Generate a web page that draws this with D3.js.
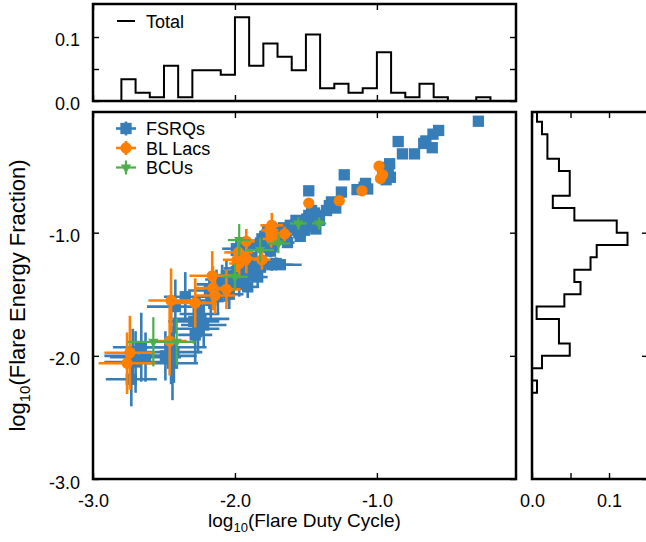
<!DOCTYPE html>
<html>
<head>
<meta charset="utf-8">
<script src="https://cdn.jsdelivr.net/npm/d3@7"></script>
<style>
  body { margin: 0; background: #fff; }
  svg { display: block; }
  text { font-family: "Liberation Sans", Arial, Helvetica, sans-serif; fill: #000; }
</style>
</head>
<body>
<div id="chart"></div>
<script>
// Each source: [log10 duty cycle, log10 energy fraction, x error, y error]
const fsrqs = [
  [-2.72, -2.00, 0.20, 0.22], [-2.73, -2.19, 0.18, 0.22], [-2.70, -2.05, 0.22, 0.25],
  [-2.63, -2.01, 0.25, 0.20], [-2.66, -1.93, 0.20, 0.28],
  [-2.49, -2.00, 0.22, 0.20], [-2.45, -1.93, 0.25, 0.30], [-2.43, -1.97, 0.20, 0.25],
  [-2.42, -1.60, 0.20, 0.22], [-2.44, -2.06, 0.18, 0.30],
  [-2.35, -1.52, 0.15, 0.20],
  [-2.29, -1.72, 0.18, 0.18], [-2.26, -1.78, 0.15, 0.20], [-2.24, -1.70, 0.20, 0.15],
  [-2.28, -1.83, 0.12, 0.22], [-2.22, -1.75, 0.16, 0.18], [-2.25, -1.66, 0.14, 0.15],
  [-2.17, -1.55, 0.12, 0.15], [-2.13, -1.42, 0.14, 0.12], [-2.18, -1.47, 0.15, 0.15],
  [-2.12, -1.52, 0.10, 0.14],
  [-2.09, -1.38, 0.12, 0.12], [-2.04, -1.50, 0.10, 0.12], [-2.02, -1.40, 0.12, 0.10],
  [-2.06, -1.35, 0.10, 0.12],
  [-1.99, -1.13, 0.10, 0.08], [-1.95, -1.18, 0.08, 0.08], [-1.93, -1.28, 0.10, 0.10],
  [-1.96, -1.32, 0.08, 0.10], [-1.91, -1.30, 0.09, 0.08], [-1.94, -1.38, 0.10, 0.10],
  [-1.92, -1.35, 0.08, 0.09], [-1.98, -1.29, 0.10, 0.08], [-1.95, -1.25, 0.07, 0.08],
  [-1.90, -1.24, 0.08, 0.07], [-1.93, -1.12, 0.06, 0.07], [-1.97, -1.42, 0.09, 0.10],
  [-1.91, -1.44, 0.08, 0.09],
  [-1.86, -1.30, 0.08, 0.08], [-1.84, -1.36, 0.07, 0.08], [-1.82, -1.28, 0.08, 0.07],
  [-1.88, -1.20, 0.06, 0.07], [-1.85, -1.10, 0.06, 0.06], [-1.81, -1.05, 0.05, 0.06],
  [-1.74, -1.26, 0.15, 0.05], [-1.71, -1.25, 0.06, 0.05], [-1.78, -1.08, 0.06, 0.05],
  [-1.76, -1.12, 0.05, 0.06], [-1.73, -1.10, 0.05, 0.05], [-1.79, -1.03, 0.05, 0.05],
  [-1.77, -0.99, 0.05, 0.04], [-1.71, -1.05, 0.04, 0.05], [-1.75, -1.15, 0.05, 0.05],
  [-1.68, -1.26, 0.15, 0.04], [-1.69, -1.00, 0.05, 0.04], [-1.66, -0.96, 0.04, 0.04],
  [-1.64, -1.05, 0.05, 0.04], [-1.62, -0.98, 0.04, 0.04], [-1.67, -1.03, 0.04, 0.05],
  [-1.61, -0.94, 0.04, 0.03], [-1.63, -1.08, 0.05, 0.04],
  [-1.58, -0.97, 0.04, 0.04], [-1.55, -1.00, 0.04, 0.04], [-1.52, -0.95, 0.03, 0.03],
  [-1.57, -0.90, 0.04, 0.03], [-1.54, -1.03, 0.04, 0.04], [-1.51, -0.98, 0.03, 0.03],
  [-1.48, -0.66, 0.03, 0.03], [-1.48, -0.86, 0.03, 0.03], [-1.46, -0.90, 0.03, 0.03],
  [-1.45, -0.94, 0.03, 0.03], [-1.42, -0.88, 0.03, 0.03], [-1.44, -0.84, 0.03, 0.02],
  [-1.47, -0.95, 0.03, 0.03], [-1.49, -0.92, 0.04, 0.03], [-1.41, -0.86, 0.03, 0.02],
  [-1.43, -0.97, 0.03, 0.03], [-1.46, -0.82, 0.03, 0.02], [-1.405, -0.90, 0.02, 0.02],
  [-1.495, -0.89, 0.03, 0.03],
  [-1.32, -0.75, 0.02, 0.02], [-1.335, -0.78, 0.02, 0.02], [-1.355, -0.82, 0.02, 0.02],
  [-1.23, -0.53, 0.02, 0.02], [-1.25, -0.67, 0.02, 0.02], [-1.29, -0.80, 0.02, 0.02],
  [-1.14, -0.65, 0.02, 0.02],
  [-1.08, -0.60, 0.02, 0.02], [-1.065, -0.645, 0.02, 0.02], [-1.09, -0.63, 0.02, 0.02],
  [-0.91, -0.44, 0.01, 0.01], [-0.93, -0.47, 0.01, 0.01], [-0.95, -0.50, 0.01, 0.01],
  [-0.92, -0.52, 0.01, 0.01], [-0.94, -0.53, 0.01, 0.01], [-0.96, -0.48, 0.01, 0.01],
  [-0.905, -0.55, 0.01, 0.01], [-0.935, -0.57, 0.01, 0.01],
  [-0.85, -0.26, 0.01, 0.01], [-0.82, -0.36, 0.01, 0.01],
  [-0.735, -0.36, 0.01, 0.01],
  [-0.67, -0.275, 0.01, 0.01], [-0.655, -0.255, 0.01, 0.01], [-0.61, -0.31, 0.01, 0.01],
  [-0.605, -0.20, 0.01, 0.01],
  [-0.565, -0.17, 0.01, 0.01],
  [-0.285, -0.095, 0.01, 0.01]
];

const blLacs = [
  [-2.74, -1.975, 0.18, 0.30], [-2.76, -2.06, 0.20, 0.25],
  [-2.45, -1.55, 0.16, 0.26], [-2.46, -1.88, 0.12, 0.28],
  [-2.28, -1.57, 0.15, 0.20],
  [-2.16, -1.35, 0.16, 0.20], [-2.155, -1.45, 0.12, 0.18], [-2.14, -1.51, 0.14, 0.15],
  [-2.06, -1.46, 0.10, 0.16],
  [-1.975, -1.16, 0.10, 0.12], [-1.92, -1.21, 0.08, 0.12], [-1.985, -1.22, 0.10, 0.10],
  [-1.97, -1.25, 0.07, 0.12], [-1.92, -1.07, 0.06, 0.10],
  [-1.81, -1.22, 0.06, 0.08],
  [-1.74, -0.94, 0.08, 0.10], [-1.755, -0.98, 0.06, 0.08], [-1.725, -1.02, 0.06, 0.08],
  [-1.745, -1.05, 0.06, 0.07],
  [-1.65, -1.01, 0.05, 0.06],
  [-1.48, -0.76, 0.03, 0.04],
  [-1.265, -0.74, 0.02, 0.02],
  [-1.105, -0.66, 0.02, 0.02],
  [-0.985, -0.46, 0.01, 0.01], [-0.96, -0.53, 0.01, 0.01], [-0.975, -0.56, 0.01, 0.01]
];

const bcus = [
  [-2.575, -1.886, 0.18, 0.20], [-2.41, -1.886, 0.13, 0.19],
  [-2.00, -1.358, 0.09, 0.11],
  [-1.97, -1.06, 0.08, 0.13],
  [-1.823, -1.141, 0.10, 0.10],
  [-1.694, -1.087, 0.08, 0.08],
  [-1.553, -0.925, 0.06, 0.05],
  [-1.407, -0.925, 0.05, 0.05]
];

// Marginal histograms (fraction of all sources per 0.1 dex bin)
const binWidth = 0.1;
const dutyBinStart = [-2.8, -2.7, -2.6, -2.5, -2.4, -2.3, -2.2, -2.1, -2.0, -1.9, -1.8, -1.7, -1.6,
                      -1.5, -1.4, -1.3, -1.2, -1.1, -1.0, -0.9, -0.8, -0.7, -0.6, -0.5, -0.4, -0.3];
const dutyFraction = [0.034, 0.013, 0.006, 0.055, 0.006, 0.048, 0.048, 0.041, 0.131, 0.055, 0.090, 0.069, 0.048,
                      0.104, 0.020, 0.027, 0.013, 0.020, 0.076, 0.013, 0.006, 0.027, 0.006, 0, 0, 0.006];
const energyBinStart = [-0.1, -0.2, -0.3, -0.4, -0.5, -0.6, -0.7, -0.8, -0.9, -1.0, -1.1, -1.2,
                        -1.3, -1.4, -1.5, -1.6, -1.7, -1.8, -1.9, -2.0, -2.1, -2.2, -2.3];
const energyFraction = [0.0065, 0.013, 0.020, 0.020, 0.035, 0.049, 0.049, 0.027, 0.055, 0.110, 0.124, 0.084,
                        0.076, 0.055, 0.063, 0.042, 0.006, 0.035, 0.035, 0.049, 0.013, 0, 0.0065];

const logTicks = [-3, -2, -1];
const fracTicks = [0, 0.05, 0.1];
const fracLabelled = [0, 0.1];

const series = [
  { name: "FSRQs",   data: fsrqs,  color: "#377eb8", symbol: d3.symbolSquare,   size: 128, rotate: 0,   barWidth: 2.6 },
  { name: "BL Lacs", data: blLacs, color: "#ff7f00", symbol: d3.symbolCircle,   size: 100, rotate: 0,   barWidth: 2.6 },
  { name: "BCUs",    data: bcus,   color: "#4daf4a", symbol: d3.symbolTriangle, size: 46,  rotate: 180, barWidth: 2.2 }
];

const W = 646, H = 542;
const mainBox = { left: 93, right: 516, top: 112, bottom: 479 };
const topBox  = { left: 93, right: 516, top: 4,   bottom: 101 };
const sideBox = { left: 532, right: 648, top: 112, bottom: 479 };

const x = d3.scaleLinear().domain([-3, -0.02]).range([mainBox.left, mainBox.right]);
const y = d3.scaleLinear().domain([-3, -0.02]).range([mainBox.bottom, mainBox.top]);
const yTop = d3.scaleLinear().domain([0, 0.1516]).range([topBox.bottom, topBox.top]);
const xSide = d3.scaleLinear().domain([0, 0.1506]).range([sideBox.left, sideBox.right]);

const svg = d3.select("#chart").append("svg").attr("width", W).attr("height", H);
svg.append("rect").attr("width", W).attr("height", H).attr("fill", "#fff");

const FONT = 18;
const fmt1 = d => d.toFixed(1);

const defs = svg.append("defs");
[["clip-main", mainBox], ["clip-top", topBox], ["clip-side", sideBox]].forEach(([id, b]) => {
  defs.append("clipPath").attr("id", id).append("rect")
    .attr("x", b.left).attr("y", b.top).attr("width", b.right - b.left).attr("height", b.bottom - b.top);
});

function styleAxis(g) {
  g.select(".domain").remove();
  g.selectAll(".tick line").attr("stroke", "#000").attr("stroke-width", 1.4);
  g.selectAll(".tick text").attr("font-size", FONT).attr("font-family", null).attr("fill", "#000");
}

// ---- main panel axes (inward ticks on every side) ----
svg.append("g").attr("transform", `translate(0,${mainBox.bottom})`)
  .call(d3.axisBottom(x).tickValues(logTicks).tickFormat(fmt1).tickSizeInner(-6).tickSizeOuter(0).tickPadding(15))
  .call(styleAxis);
svg.append("g").attr("transform", `translate(0,${mainBox.top})`)
  .call(d3.axisTop(x).tickValues(logTicks).tickFormat("").tickSizeInner(-6).tickSizeOuter(0))
  .call(styleAxis);
svg.append("g").attr("transform", `translate(${mainBox.left},0)`)
  .call(d3.axisLeft(y).tickValues(logTicks).tickFormat(fmt1).tickSizeInner(-6).tickSizeOuter(0).tickPadding(13))
  .call(styleAxis)
  .call(g => g.selectAll(".tick text").attr("dy", "0.5em"));
svg.append("g").attr("transform", `translate(${mainBox.right},0)`)
  .call(d3.axisRight(y).tickValues(logTicks).tickFormat("").tickSizeInner(-6).tickSizeOuter(0))
  .call(styleAxis);

// ---- top histogram axes ----
svg.append("g").attr("transform", `translate(0,${topBox.bottom})`)
  .call(d3.axisBottom(x).tickValues(logTicks).tickFormat("").tickSizeInner(-6).tickSizeOuter(0))
  .call(styleAxis);
svg.append("g").attr("transform", `translate(0,${topBox.top})`)
  .call(d3.axisTop(x).tickValues(logTicks).tickFormat("").tickSizeInner(-6).tickSizeOuter(0))
  .call(styleAxis);
svg.append("g").attr("transform", `translate(${topBox.left},0)`)
  .call(d3.axisLeft(yTop).tickValues(fracTicks)
    .tickFormat(d => fracLabelled.includes(d) ? fmt1(d) : "")
    .tickSizeInner(-6).tickSizeOuter(0).tickPadding(13))
  .call(styleAxis)
  .call(g => g.selectAll(".tick text").attr("dy", "0.45em"));
svg.append("g").attr("transform", `translate(${topBox.right},0)`)
  .call(d3.axisRight(yTop).tickValues(fracTicks).tickFormat("").tickSizeInner(-6).tickSizeOuter(0))
  .call(styleAxis);

// ---- side histogram axes ----
svg.append("g").attr("transform", `translate(0,${sideBox.bottom})`)
  .call(d3.axisBottom(xSide).tickValues(fracTicks)
    .tickFormat(d => fracLabelled.includes(d) ? fmt1(d) : "")
    .tickSizeInner(-6).tickSizeOuter(0).tickPadding(15))
  .call(styleAxis);
svg.append("g").attr("transform", `translate(0,${sideBox.top})`)
  .call(d3.axisTop(xSide).tickValues(fracTicks).tickFormat("").tickSizeInner(-6).tickSizeOuter(0))
  .call(styleAxis);
svg.append("g").attr("transform", `translate(${sideBox.right},0)`)
  .call(d3.axisRight(y).tickValues(logTicks).tickFormat("").tickSizeInner(-6).tickSizeOuter(0))
  .call(styleAxis);

// ---- histograms ----
const topPts = [[dutyBinStart[0], 0]];
dutyBinStart.forEach((lo, i) => { topPts.push([lo, dutyFraction[i]], [lo + binWidth, dutyFraction[i]]); });
topPts.push([dutyBinStart[dutyBinStart.length - 1] + binWidth, 0]);
svg.append("path")
  .attr("clip-path", "url(#clip-top)")
  .attr("d", d3.line().x(d => x(d[0])).y(d => yTop(d[1]))(topPts))
  .attr("fill", "none").attr("stroke", "#000").attr("stroke-width", 2);

const sidePts = [[0, energyBinStart[0] + binWidth]];
energyBinStart.forEach((lo, i) => { sidePts.push([energyFraction[i], lo + binWidth], [energyFraction[i], lo]); });
sidePts.push([0, energyBinStart[energyBinStart.length - 1]]);
svg.append("path")
  .attr("clip-path", "url(#clip-side)")
  .attr("d", d3.line().x(d => xSide(d[0])).y(d => y(d[1]))(sidePts))
  .attr("fill", "none").attr("stroke", "#000").attr("stroke-width", 2);

// ---- scatter with error bars ----
const plot = svg.append("g").attr("clip-path", "url(#clip-main)");
series.forEach(s => {
  const g = plot.append("g");
  const bars = g.append("g").attr("stroke", s.color).attr("stroke-width", s.barWidth);
  bars.selectAll("line.xe").data(s.data).join("line").attr("class", "xe")
    .attr("x1", d => x(d[0] - d[2])).attr("x2", d => x(d[0] + d[2]))
    .attr("y1", d => y(d[1])).attr("y2", d => y(d[1]));
  bars.selectAll("line.ye").data(s.data).join("line").attr("class", "ye")
    .attr("x1", d => x(d[0])).attr("x2", d => x(d[0]))
    .attr("y1", d => y(d[1] - d[3])).attr("y2", d => y(d[1] + d[3]));
  g.selectAll("path.mk").data(s.data).join("path").attr("class", "mk")
    .attr("d", d3.symbol().type(s.symbol).size(s.size))
    .attr("transform", d => `translate(${x(d[0])},${y(d[1])}) rotate(${s.rotate})`)
    .attr("fill", s.color);
});

// ---- panel frames ----
[mainBox, topBox, sideBox].forEach(b => {
  svg.append("rect")
    .attr("x", b.left).attr("y", b.top).attr("width", b.right - b.left).attr("height", b.bottom - b.top)
    .attr("fill", "none").attr("stroke", "#000").attr("stroke-width", 2.5);
});

// ---- legends ----
const legTop = svg.append("g");
legTop.append("line").attr("x1", 117).attr("x2", 135).attr("y1", 21).attr("y2", 21)
  .attr("stroke", "#000").attr("stroke-width", 2);
legTop.append("text").attr("x", 146).attr("y", 27.5).attr("font-size", FONT).text("Total");

const legMain = svg.append("g");
series.forEach((s, i) => {
  const cy = 128.5 + i * 19.5;
  const cx = 126;
  const e = legMain.append("g").attr("stroke", s.color).attr("stroke-width", s.barWidth);
  e.append("line").attr("x1", cx - 10).attr("x2", cx + 10).attr("y1", cy).attr("y2", cy);
  e.append("line").attr("x1", cx).attr("x2", cx).attr("y1", cy - 7).attr("y2", cy + 7);
  legMain.append("path")
    .attr("d", d3.symbol().type(s.symbol).size(s.size))
    .attr("transform", `translate(${cx},${cy}) rotate(${s.rotate})`)
    .attr("fill", s.color);
  legMain.append("text").attr("x", 146).attr("y", cy + 6.7).attr("font-size", FONT).text(s.name);
});

// ---- axis titles ----
const xTitle = svg.append("text")
  .attr("x", (mainBox.left + mainBox.right) / 2).attr("y", 527)
  .attr("text-anchor", "middle").attr("font-size", 19);
xTitle.append("tspan").text("log");
xTitle.append("tspan").attr("font-size", 13).attr("dy", 5).text("10");
xTitle.append("tspan").attr("dy", -5).text("(Flare Duty Cycle)");

const yTitle = svg.append("text")
  .attr("transform", `translate(25,${(mainBox.top + mainBox.bottom) / 2}) rotate(-90)`)
  .attr("text-anchor", "middle").attr("font-size", 22);
yTitle.append("tspan").text("log");
yTitle.append("tspan").attr("font-size", 15).attr("dy", 5).text("10");
yTitle.append("tspan").attr("dy", -5).text("(Flare Energy Fraction)");
</script>
</body>
</html>
